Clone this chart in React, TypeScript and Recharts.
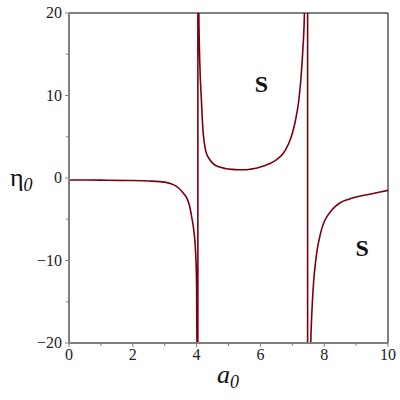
import React from 'react';
import { LineChart, Line, XAxis, YAxis, ReferenceLine, ReferenceDot } from 'recharts';

// a_0 samples and eta_0 (large +/- values make the jump across the poles)
const aValues = [
  0, 1, 2, 2.5, 3, 3.2, 3.4, 3.5, 3.6, 3.7, 3.78, 3.85, 3.9, 3.95, 3.98, 4.0, 4.01,
  4.03, 4.05,
  4.07, 4.1, 4.15, 4.2, 4.3, 4.4, 4.5, 4.7, 4.9, 5.1, 5.3, 5.5, 5.7, 5.9, 6.1, 6.3, 6.5, 6.7, 6.8, 6.9,
  7.0, 7.1, 7.2, 7.27, 7.33, 7.38,
  7.46, 7.5,
  7.58, 7.6, 7.63, 7.67, 7.72, 7.78, 7.85, 7.92, 8.0, 8.1, 8.2, 8.35, 8.5, 8.75, 9.0, 9.5, 10,
];
const etaValues = [
  -0.24, -0.26, -0.3, -0.36, -0.5, -0.7, -1.1, -1.45, -1.9, -2.5, -3.4, -4.8, -6, -7.8, -10, -13, -20,
  -2000, 2000,
  20, 14, 9.5, 5.8, 3.1, 2.3, 1.8, 1.35, 1.15, 1.05, 1.0, 1.0, 1.08, 1.22, 1.45, 1.75, 2.2, 2.9, 3.5, 4.3,
  5.4, 7.0, 9.3, 12, 15.5, 20,
  2000, -2000,
  -20, -17.5, -15, -12.5, -10.5, -8.7, -7.3, -6.2, -5.3, -4.6, -4.05, -3.45, -3.0, -2.6, -2.3, -1.9, -1.5,
];
const xTicks = [0, 1, 2, 3, 4, 5, 6, 7, 8, 9, 10];
const yTicks = [-20, -15, -10, -5, 0, 5, 10, 15, 20];
const regionLabels = [
  { a: 6.03, eta: 11.4, text: 'S' },
  { a: 9.19, eta: -8.5, text: 'S' },
];

const data = aValues.map((a, i) => ({ a, eta: etaValues[i] }));

const SERIF = '"Times New Roman", "Liberation Serif", Times, serif';
const AXIS_GREY = '#808080';

const XTick = (props: any) => {
  const { x, y, payload } = props;
  const major = payload.value % 2 === 0;
  return (
    <g>
      <line x1={x} x2={x} y1={y - 8} y2={y - 8 + (major ? 4 : 3)} stroke={AXIS_GREY} strokeWidth={1} />
      {major && (
        <text x={x} y={y + 9} textAnchor="middle" fontFamily={SERIF} fontSize={16} fill="#222">
          {payload.value}
        </text>
      )}
    </g>
  );
};

const YTick = (props: any) => {
  const { x, y, payload } = props;
  const major = payload.value % 10 === 0;
  const axisX = x + 7;
  const label = payload.value < 0 ? `\u2212${Math.abs(payload.value)}` : `${payload.value}`;
  return (
    <g>
      <line x1={axisX - (major ? 4 : 3)} x2={axisX} y1={y} y2={y} stroke={AXIS_GREY} strokeWidth={1} />
      {major && (
        <text x={x} y={y + 5} textAnchor="end" fontFamily={SERIF} fontSize={16} fill="#222">
          {label}
        </text>
      )}
    </g>
  );
};

const SLabel = (text: string) => (props: any) => {
  const { viewBox } = props;
  const cx = viewBox.x + viewBox.width / 2;
  const cy = viewBox.y + viewBox.height / 2;
  return (
    <text x={cx} y={cy + 8} textAnchor="middle" fontFamily={SERIF} fontWeight="bold" fontSize={24} fill="#111">
      {text}
    </text>
  );
};

export default function App() {
  return (
    <div style={{ position: 'absolute', left: 0, top: 0, width: 400, height: 400, background: '#fff' }}>
      <LineChart width={400} height={400} data={data} margin={{ top: 13, right: 12, bottom: 27, left: 9 }}>
        <XAxis
          dataKey="a"
          type="number"
          domain={[0, 10]}
          ticks={xTicks}
          interval={0}
          height={30}
          tickSize={4}
          tickMargin={4}
          tickLine={false}
          axisLine={{ stroke: AXIS_GREY, strokeWidth: 2 }}
          tick={<XTick />}
        />
        <YAxis
          dataKey="eta"
          type="number"
          domain={[-20, 20]}
          allowDataOverflow
          ticks={yTicks}
          interval={0}
          width={60}
          tickSize={4}
          tickMargin={3}
          tickLine={false}
          axisLine={{ stroke: AXIS_GREY, strokeWidth: 2 }}
          tick={<YTick />}
        />
        <ReferenceLine y={20} stroke={AXIS_GREY} strokeWidth={2} />
        <ReferenceLine x={10} stroke="#000" strokeWidth={1} />
        <Line
          dataKey="eta"
          type="monotone"
          stroke="#7a0010"
          strokeWidth={1.6}
          dot={false}
          isAnimationActive={false}
        />
        {regionLabels.map((l, i) => (
          <ReferenceDot key={i} x={l.a} y={l.eta} r={1} fill="none" stroke="none" label={SLabel(l.text)} />
        ))}
      </LineChart>
      <div style={{ position: 'absolute', left: 10, top: 163, fontFamily: SERIF, fontSize: 26, color: '#111', whiteSpace: 'nowrap' }}>
        η<sub style={{ fontStyle: 'italic', fontSize: 18, verticalAlign: -5 }}>0</sub>
      </div>
      <div style={{ position: 'absolute', left: 217, top: 360, fontFamily: SERIF, fontSize: 26, fontStyle: 'italic', color: '#111', whiteSpace: 'nowrap' }}>
        a<sub style={{ fontSize: 18, verticalAlign: -5 }}>0</sub>
      </div>
    </div>
  );
}
